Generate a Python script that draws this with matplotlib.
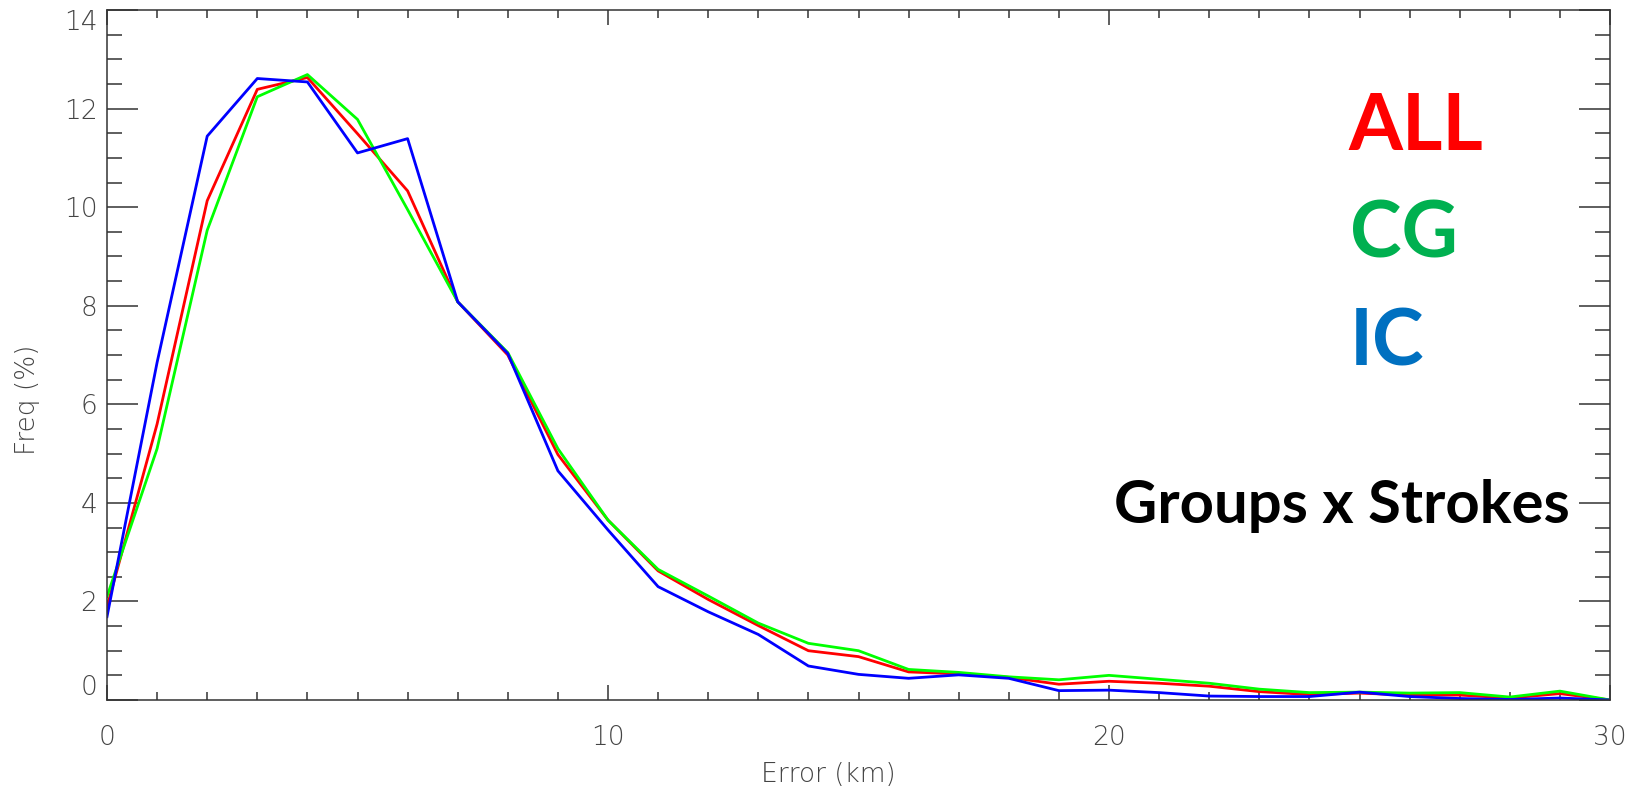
import matplotlib
matplotlib.use("Agg")
import matplotlib.pyplot as plt
from matplotlib.ticker import MultipleLocator

# error distance (km) and frequency (%) for each class
error_km = list(range(0, 31))
freq_all = [1.89, 5.6, 10.13, 12.39, 12.63, 11.49, 10.33, 8.08, 7.0, 4.98, 3.65,
            2.62, 2.04, 1.51, 1.0, 0.88, 0.57, 0.53, 0.46, 0.32, 0.38,
            0.34, 0.28, 0.17, 0.11, 0.14, 0.10, 0.10, 0.04, 0.13, 0.0]
freq_cg = [2.10, 5.1, 9.53, 12.24, 12.69, 11.78, 9.95, 8.08, 7.05, 5.1, 3.65,
           2.65, 2.11, 1.56, 1.15, 1.0, 0.62, 0.56, 0.47, 0.41, 0.50,
           0.42, 0.34, 0.22, 0.15, 0.16, 0.14, 0.15, 0.06, 0.18, 0.0]
freq_ic = [1.69, 6.85, 11.44, 12.61, 12.54, 11.10, 11.39, 8.08, 7.03, 4.65, 3.45,
           2.30, 1.79, 1.33, 0.69, 0.52, 0.44, 0.51, 0.44, 0.19, 0.20,
           0.15, 0.08, 0.07, 0.07, 0.16, 0.07, 0.03, 0.01, 0.04, 0.0]

W, H = 1643, 791
fig = plt.figure(figsize=(W / 100, H / 100), dpi=100)
ax = fig.add_axes([107 / W, (H - 700) / H, (1610 - 107) / W, (700 - 10) / H])

ax.plot(error_km, freq_all, color='#ff0000', lw=2.0)
ax.plot(error_km, freq_cg, color='#00ff00', lw=2.0)
ax.plot(error_km, freq_ic, color='#0000ff', lw=2.0)

ax.set_xlim(0, 30)
ax.set_ylim(0, 14)
ax.xaxis.set_major_locator(MultipleLocator(10))
ax.xaxis.set_minor_locator(MultipleLocator(1))
ax.yaxis.set_major_locator(MultipleLocator(2))
ax.yaxis.set_minor_locator(MultipleLocator(0.5))

axis_col = '#333333'
for s in ax.spines.values():
    s.set_color(axis_col)
    s.set_linewidth(1.1)

ax.tick_params(axis='both', which='both', direction='in', top=True, right=True,
               color=axis_col, width=1.1)
ax.tick_params(axis='y', which='major', length=22, pad=7)
ax.tick_params(axis='y', which='minor', length=11)
ax.tick_params(axis='x', which='major', length=11, pad=18)
ax.tick_params(axis='x', which='minor', length=5.5)
ax.tick_params(axis='both', which='major', labelsize=19, labelcolor='#444444')

fig.text(828 / W, 1 - 775 / H, 'Error (km)', fontsize=19, color='#444444',
         fontweight='light', ha='center', va='center')
fig.text(28 / W, 1 - 400 / H, 'Freq (%)', fontsize=19, color='#444444',
         fontweight='light', ha='center', va='center', rotation=90)

# labels drawn on the chart
fig.text(1348 / W, 1 - 150 / H, 'ALL', color='#ff0000', fontsize=56,
         fontfamily='Lato', fontweight='bold', ha='left', va='baseline')
fig.text(1350 / W, 1 - 257 / H, 'CG', color='#00b050', fontsize=56,
         fontfamily='Lato', fontweight='bold', ha='left', va='baseline')
fig.text(1350 / W, 1 - 365 / H, 'IC', color='#0070c0', fontsize=56,
         fontfamily='Lato', fontweight='bold', ha='left', va='baseline')
fig.text(1342 / W, 1 - 523 / H, 'Groups x Strokes', color='black', fontsize=43,
         fontfamily='Lato', fontweight='bold', ha='center', va='baseline')

# draw once so the tick labels exist, then tweak them
fig.canvas.draw()
for lab in ax.get_xticklabels() + ax.get_yticklabels():
    lab.set_fontweight('light')
for lab in ax.get_yticklabels():
    if lab.get_text() == '0':
        lab.set_va('bottom')
    elif lab.get_text() == '14':
        lab.set_va('top')

fig.savefig('out.png', dpi=100, facecolor='white')
